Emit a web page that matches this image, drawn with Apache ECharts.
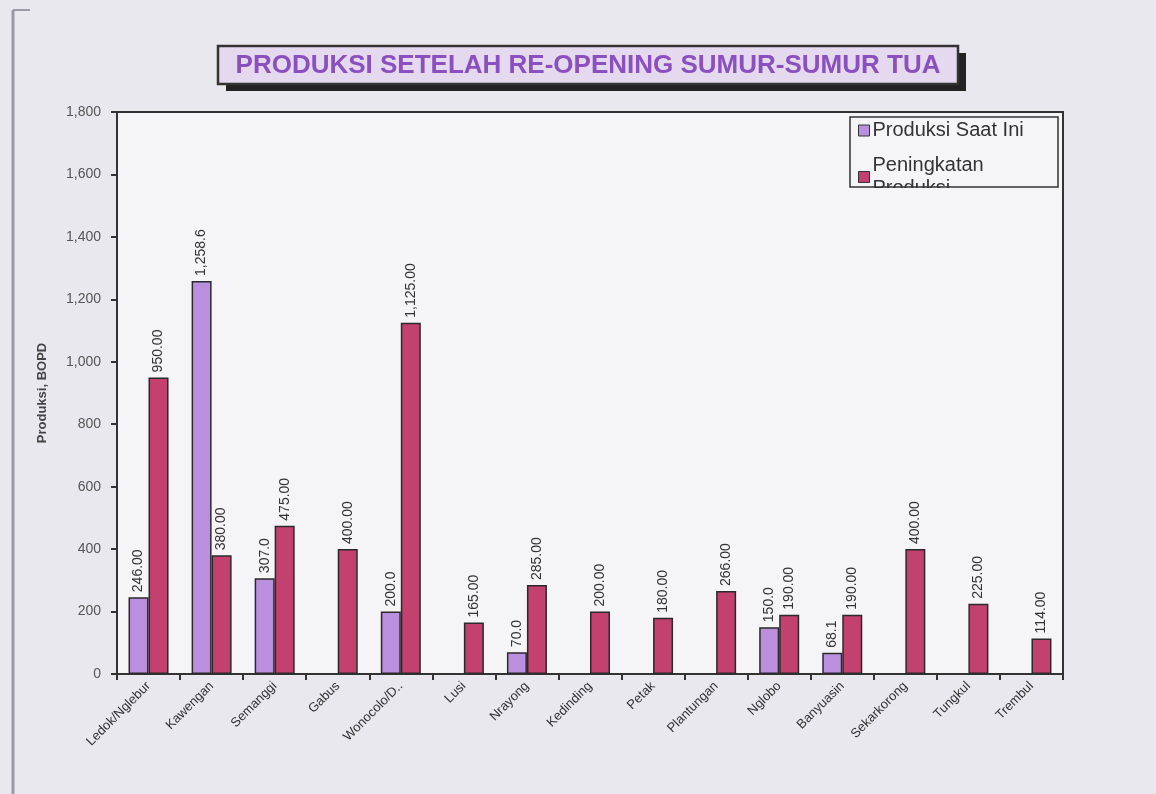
<!DOCTYPE html>
<html>
<head>
<meta charset="utf-8">
<script src="https://cdn.jsdelivr.net/npm/echarts@6/dist/echarts.min.js"></script>
<style>
html,body{margin:0;padding:0;background:#e9e8ef;}
#chart{width:1156px;height:794px;}
</style>
</head>
<body>
<div id="chart"></div>
<script>
const categories = ['Ledok/Nglebur','Kawengan','Semanggi','Gabus','Wonocolo/D..','Lusi','Nrayong','Kedinding','Petak','Plantungan','Nglobo','Banyuasin','Sekarkorong','Tungkul','Trembul'];
const produksiSaatIni = [246, 1258.6, 307, null, 200, null, 70, null, null, null, 150, 68.1, null, null, null];
const produksiSaatIniLabels = ['246.00','1,258.6','307.0','','200.0','','70.0','','','','150.0','68.1','','',''];
const peningkatan = [950, 380, 475, 400, 1125, 165, 285, 200, 180, 266, 190, 190, 400, 225, 114];
const yTicks = [0,200,400,600,800,1000,1200,1400,1600,1800];
const titleText = 'PRODUKSI SETELAH RE-OPENING SUMUR-SUMUR TUA';

const chart = echarts.init(document.getElementById('chart'), null, {renderer:'canvas'});
const fmt = v => v.toLocaleString('en-US',{minimumFractionDigits:2,maximumFractionDigits:2});
const labelBase = {show:true, position:'top', rotate:90, align:'left', verticalAlign:'middle', distance:5, fontSize:14, color:'#333', fontFamily:'Liberation Sans, Arial, sans-serif'};

chart.setOption({
  backgroundColor:'#e9e8ef',
  textStyle:{fontFamily:'Liberation Sans, Arial, sans-serif'},
  grid:{left:117, right:93, top:112, bottom:120, show:true, backgroundColor:'#f5f4f7', borderColor:'#333', borderWidth:2},
  legend:{
    orient:'vertical', left:853, top:114, itemWidth:11, itemHeight:11, itemGap:12, icon:'rect',
    textStyle:{fontSize:20, color:'#333', lineHeight:23, padding:[0,0,0,-2]},
    data:[
      {name:'Produksi Saat Ini', itemStyle:{borderColor:'#333', borderWidth:1}},
      {name:'Peningkatan\nProduksi', itemStyle:{borderColor:'#333', borderWidth:1}}
    ]
  },
  xAxis:{
    type:'category', data:categories,
    axisLine:{lineStyle:{color:'#333', width:2}},
    axisTick:{show:true, length:6, lineStyle:{color:'#333', width:2}},
    axisLabel:{interval:0, rotate:45, fontSize:13, color:'#333', margin:10}
  },
  yAxis:{
    type:'value', min:yTicks[0], max:yTicks[yTicks.length-1], interval:200,
    name:'Produksi, BOPD', nameLocation:'middle', nameGap:68, nameRotate:90,
    nameTextStyle:{fontSize:13, fontWeight:'bold', color:'#444'},
    axisLine:{show:true, lineStyle:{color:'#333', width:2}},
    axisTick:{show:true, length:6, lineStyle:{color:'#333', width:2}},
    splitLine:{show:false},
    axisLabel:{fontSize:14, color:'#555', margin:16, formatter:v=>v.toLocaleString('en-US')}
  },
  series:[
    {name:'Produksi Saat Ini', type:'bar', data:produksiSaatIni, barWidth:20, barGap:'0%',
     itemStyle:{color:'#ba8fdd', borderColor:'#2a2a2a', borderWidth:1.5},
     label:Object.assign({}, labelBase, {formatter:p=>produksiSaatIniLabels[p.dataIndex]})},
    {name:'Peningkatan\nProduksi', type:'bar', data:peningkatan, barWidth:20, barGap:'0%',
     itemStyle:{color:'#c2416f', borderColor:'#2a2a2a', borderWidth:1.5},
     label:Object.assign({}, labelBase, {formatter:p=>fmt(p.value)})}
  ],
  graphic:[
    {type:'line', shape:{x1:13, y1:10, x2:13, y2:794}, style:{stroke:'#9a9aa6', lineWidth:3}, silent:true},
    {type:'line', shape:{x1:13, y1:10, x2:30, y2:10}, style:{stroke:'#9a9aa6', lineWidth:2}, silent:true},
    {type:'rect', shape:{x:226, y:53, width:740, height:38}, style:{fill:'#222'}, silent:true, z:10},
    {type:'rect', shape:{x:218, y:46, width:740, height:38}, style:{fill:'#e4d9ee', stroke:'#333', lineWidth:2.5}, silent:true, z:11},
    {type:'text', style:{x:588, y:66, text:titleText, fill:'#8b50bf', font:'bold 26px Liberation Sans, Arial, sans-serif', textAlign:'center', textVerticalAlign:'middle'}, silent:true, z:12},
    {type:'rect', shape:{x:849, y:188, width:211, height:14}, style:{fill:'#f5f4f7'}, silent:true, z:100},
    {type:'rect', shape:{x:850, y:117, width:208, height:70}, style:{fill:'none', stroke:'#333', lineWidth:1.5}, silent:true, z:101}
  ]
});
</script>
</body>
</html>
